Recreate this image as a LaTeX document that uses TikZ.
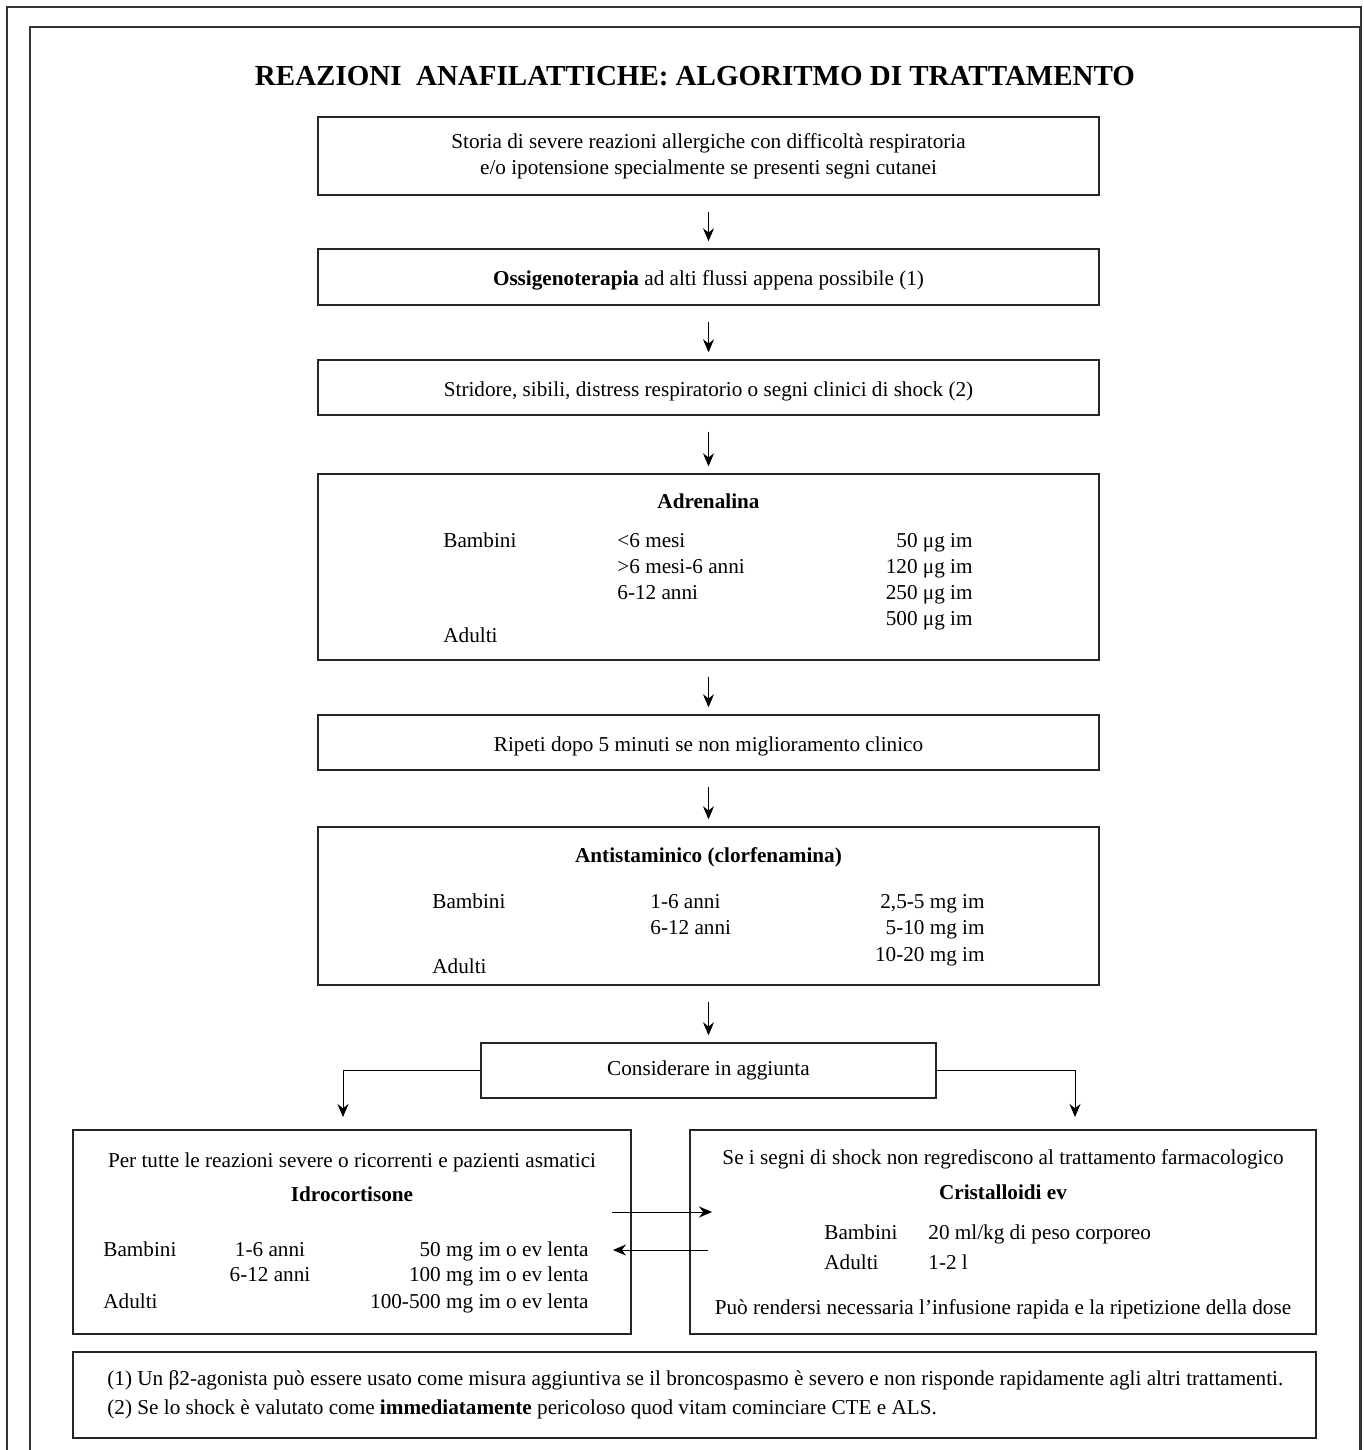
\documentclass[tikz,border=0pt]{standalone}
\usepackage{fontspec}
\setmainfont{Liberation Serif}
\usepackage{tikz}
\usetikzlibrary{arrows.meta}
\tikzset{every node/.style={font=\fontsize{10.6pt}{13pt}\selectfont}}
\tikzstyle{box} = [draw=black!85, line width=0.7pt, inner sep=0pt, align=center]
\tikzstyle{oneline} = [text height=9.5pt, text depth=1pt]
\tikzstyle{arrow} = [line width=0.5pt, -{Stealth[length=6.5pt, width=5.5pt]}]
\tikzstyle{flow} = [arrow, shorten <=8pt, shorten >=3.5pt]
\tikzstyle{txt} = [anchor=base, inner sep=0pt]
\tikzstyle{colL} = [anchor=base west, inner sep=0pt]
\tikzstyle{colR} = [anchor=base east, inner sep=0pt]

\begin{document}
\begin{tikzpicture}[x=0.5pt, y=-0.5pt]
        \useasboundingbox (0,0) rectangle (1364,1450);
        % page frames
        \draw[line width=0.8pt, black!80] (7,1450) |- (1361,7) -- (1361,1450);
        \draw[line width=0.8pt, black!80] (30,1450) |- (1360,27) -- (1360,1450);
        \node[txt, font=\fontsize{14.5pt}{17pt}\selectfont\bfseries] (titolo) at (695,86) {REAZIONI\ \ ANAFILATTICHE: ALGORITMO DI TRATTAMENTO};

        % main column
        \node (storia) [box, minimum width=390.5pt, minimum height=39pt] at (708.5,156) {Storia di severe reazioni allergiche con difficoltà respiratoria\\e/o ipotensione specialmente se presenti segni cutanei};
        \node (ossigeno) [box, oneline, minimum width=390.5pt, minimum height=28pt] at (708.5,277) {\textbf{Ossigenoterapia} ad alti flussi appena possibile (1)};
        \node (stridore) [box, oneline, minimum width=390.5pt, minimum height=27.5pt] at (708.5,387.5) {Stridore, sibili, distress respiratorio o segni clinici di shock (2)};
        \node (adrenalina) [box, minimum width=390.5pt, minimum height=93pt] at (708.5,567) {};
        \node (ripeti) [box, oneline, minimum width=390.5pt, minimum height=27.5pt] at (708.5,742.5) {Ripeti dopo 5 minuti se non miglioramento clinico};
        \node (antistaminico) [box, minimum width=390.5pt, minimum height=79pt] at (708.5,906) {};
        \node (considerare) [box, minimum width=227.5pt, minimum height=27.5pt] at (708.5,1070.5) {Considerare in aggiunta};
        \node (idrocortisone) [box, minimum width=279pt, minimum height=102pt] at (352,1232) {};
        \node (cristalloidi) [box, minimum width=313pt, minimum height=102pt] at (1003,1232) {};
        \node (note) [box, minimum width=621.5pt, minimum height=43pt] at (694.5,1395) {};

        % adrenalina
        \node[txt] (adrTitle) at (708.5,508) {\textbf{Adrenalina}};
        \node[colL] (adrBambini) at (443,547) {Bambini};
        \node[colL] (adrAdulti) at (443,642) {Adulti};
        \node[colL] (adrEta1) at (617,547) {<6 mesi};
        \node[colL] (adrEta2) at (617,573) {>6 mesi-6 anni};
        \node[colL] (adrEta3) at (617,599) {6-12 anni};
        \foreach \dose [count=\i] in {50,120,250,500}
            \node[colR] (adrDose\i) at (973,{547+26.3*(\i-1)}) {\dose\ μg im};

        % antistaminico
        \node[txt] (antTitle) at (708.5,862) {\textbf{Antistaminico (clorfenamina)}};
        \node[colL] (antBambini) at (432,908) {Bambini};
        \node[colL] (antAdulti) at (432,973) {Adulti};
        \node[colL] (antEta1) at (650,908) {1-6 anni};
        \node[colL] (antEta2) at (650,934) {6-12 anni};
        \node[colR] (antDose1) at (985,908) {2,5-5 mg im};
        \node[colR] (antDose2) at (985,934) {5-10 mg im};
        \node[colR] (antDose3) at (985,961) {10-20 mg im};

        % idrocortisone
        \node[txt] (idrIntro) at (352,1167) {Per tutte le reazioni severe o ricorrenti e pazienti asmatici};
        \node[txt] (idrTitle) at (352,1201) {\textbf{Idrocortisone}};
        \node[colL] (idrBambini) at (103,1256) {Bambini};
        \node[colL] (idrAdulti) at (103,1308) {Adulti};
        \node[txt] (idrEta1) at (270,1256) {1-6 anni};
        \node[txt] (idrEta2) at (270,1281) {6-12 anni};
        \node[colR] (idrDose1) at (589,1256) {50 mg im o ev lenta};
        \node[colR] (idrDose2) at (589,1281) {100 mg im o ev lenta};
        \node[colR] (idrDose3) at (589,1308) {100-500 mg im o ev lenta};

        % cristalloidi
        \node[txt] (criIntro) at (1003,1164) {Se i segni di shock non regrediscono al trattamento farmacologico};
        \node[txt] (criTitle) at (1003,1199) {\textbf{Cristalloidi ev}};
        \node[colL] (criBambini) at (824,1239) {Bambini};
        \node[colL] (criAdulti) at (824,1269) {Adulti};
        \node[colL] (criDose1) at (928,1239) {20 ml/kg di peso corporeo};
        \node[colL] (criDose2) at (928,1269) {1-2 l};
        \node[txt] (criNota) at (1003,1314) {Può rendersi necessaria l’infusione rapida e la ripetizione della dose};

        % note
        \node[colL] (nota1) at (107,1385) {(1) Un β2-agonista può essere usato come misura aggiuntiva se il broncospasmo è severo e non risponde rapidamente agli altri trattamenti.};
        \node[colL] (nota2) at (107,1414) {(2) Se lo shock è valutato come \textbf{immediatamente} pericoloso quod vitam cominciare CTE e ALS.};

        % arrows
        \draw [flow] (storia) -- (ossigeno);
        \draw [flow] (ossigeno) -- (stridore);
        \draw [flow] (stridore) -- (adrenalina);
        \draw [flow] (adrenalina) -- (ripeti);
        \draw [flow] (ripeti) -- (antistaminico);
        \draw [flow] (antistaminico) -- (considerare);
        \coordinate (splitL) at (343,1117);
        \coordinate (splitR) at (1075,1117);
        \draw [arrow] (considerare.west) -| (splitL);
        \draw [arrow] (considerare.east) -| (splitR);
        \coordinate (verso_cri) at (712,1212);
        \coordinate (da_idr) at (612,1212);
        \coordinate (verso_idr) at (613,1250);
        \coordinate (da_cri) at (708,1250);
        \draw [arrow] (da_idr) -- (verso_cri);
        \draw [arrow] (da_cri) -- (verso_idr);
\end{tikzpicture}
\end{document}
